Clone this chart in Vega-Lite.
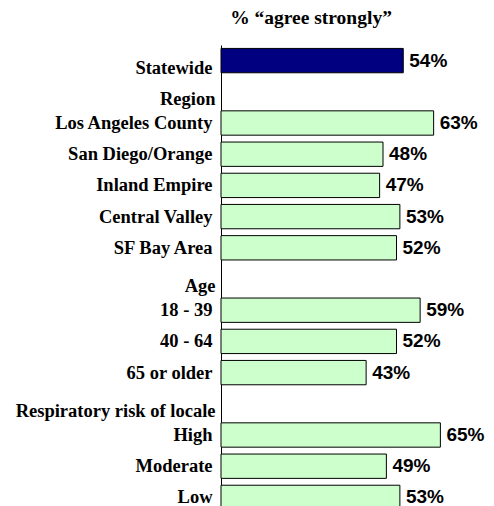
{
  "$schema": "https://vega.github.io/schema/vega-lite/v6.json",
  "width": 270,
  "height": 461,
  "autosize": {"type": "none"},
  "padding": {"left": 221, "top": 45, "right": 3, "bottom": 0},
  "background": "white",
  "title": {
    "text": "% “agree strongly”",
    "font": "Liberation Serif",
    "fontSize": 19.5,
    "fontWeight": "bold",
    "color": "black",
    "anchor": "middle",
    "dx": -45,
    "baseline": "alphabetic",
    "offset": 2
  },
  "data": {
    "values": [
      {"label": "Statewide", "value": 0.54, "group": "total"},
      {"label": "Region", "value": null, "group": "header"},
      {"label": "Los Angeles County", "value": 0.63, "group": "item"},
      {"label": "San Diego/Orange", "value": 0.48, "group": "item"},
      {"label": "Inland Empire", "value": 0.47, "group": "item"},
      {"label": "Central Valley", "value": 0.53, "group": "item"},
      {"label": "SF Bay Area", "value": 0.52, "group": "item"},
      {"label": "Age", "value": null, "group": "header"},
      {"label": "18 - 39", "value": 0.59, "group": "item"},
      {"label": "40 - 64", "value": 0.52, "group": "item"},
      {"label": "65 or older", "value": 0.43, "group": "item"},
      {"label": "Respiratory risk of locale", "value": null, "group": "header"},
      {"label": "High", "value": 0.65, "group": "item"},
      {"label": "Moderate", "value": 0.49, "group": "item"},
      {"label": "Low", "value": 0.53, "group": "item"}
    ]
  },
  "encoding": {
    "y": {
      "field": "label",
      "type": "nominal",
      "scale": {
        "domain": ["Statewide", "Region", "Los Angeles County", "San Diego/Orange", "Inland Empire", "Central Valley", "SF Bay Area", "Age", "18 - 39", "40 - 64", "65 or older", "Respiratory risk of locale", "High", "Moderate", "Low"],
        "range": [0, 468],
        "paddingInner": 0.22,
        "paddingOuter": 0.11
      },
      "axis": {
        "title": null,
        "domain": true,
        "domainColor": "black",
        "domainWidth": 1,
        "ticks": false,
        "grid": false,
        "labelFont": "Liberation Serif",
        "labelFontSize": 18.5,
        "labelFontWeight": "bold",
        "labelColor": "black",
        "labelLimit": 300,
        "labelPadding": {"condition": {"test": "datum.value == 'Region' || datum.value == 'Age' || datum.value == 'Respiratory risk of locale'", "value": 6}, "value": 9},
        "labelOffset": {"condition": {"test": "datum.value == 'Statewide' || datum.value == 'Region' || datum.value == 'Age' || datum.value == 'Respiratory risk of locale'", "value": 7}, "value": 0}
      }
    }
  },
  "layer": [
    {
      "transform": [{"filter": "datum.value != null"}],
      "mark": {"type": "bar", "stroke": "black", "strokeWidth": 1},
      "encoding": {
        "x": {"field": "value", "type": "quantitative", "scale": {"domain": [0, 0.8]}, "axis": null},
        "color": {"field": "group", "type": "nominal", "scale": {"domain": ["total", "item"], "range": ["#000080", "#CCFFCC"]}, "legend": null}
      }
    },
    {
      "transform": [{"filter": "datum.value != null"}],
      "mark": {"type": "text", "align": "left", "baseline": "middle", "dx": 6, "font": "Liberation Sans", "fontSize": 19, "fontWeight": "bold", "color": "black"},
      "encoding": {
        "x": {"field": "value", "type": "quantitative"},
        "text": {"field": "value", "format": ".0%"}
      }
    }
  ],
  "config": {"view": {"stroke": null}}
}
